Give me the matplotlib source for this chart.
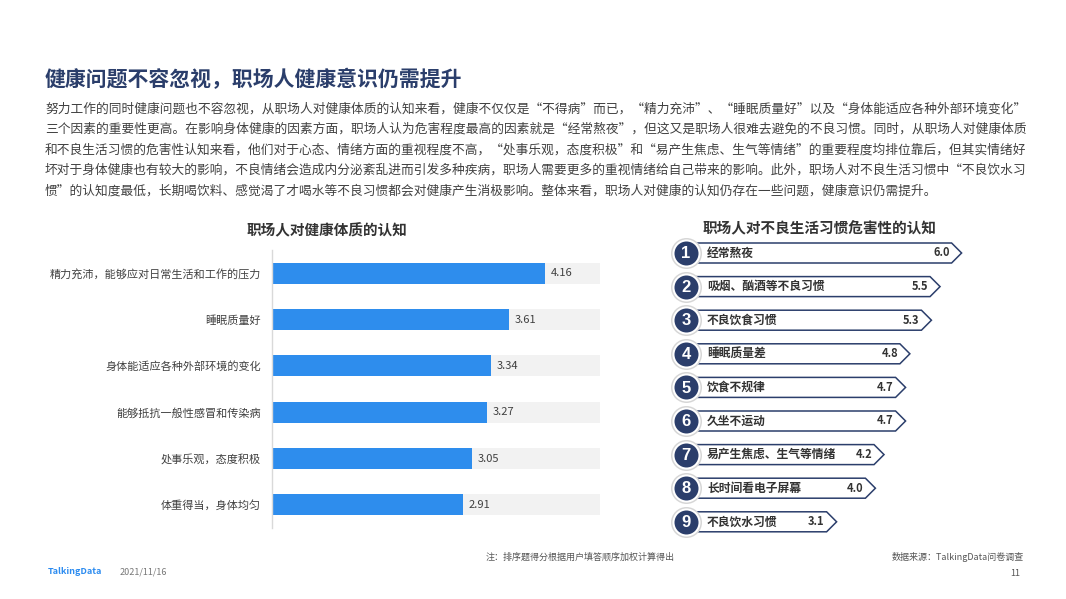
import matplotlib
matplotlib.use("Agg")
import matplotlib.pyplot as plt
from matplotlib.patches import Polygon

plt.rcParams['font.family'] = ['Noto Sans CJK SC', 'DejaVu Sans']

W, H = 1066, 599

# ---------------- data ----------------
title = "健康问题不容忽视，职场人健康意识仍需提升"
para_lines = [
    "努力工作的同时健康问题也不容忽视，从职场人对健康体质的认知来看，健康不仅仅是“不得病”而已，“精力充沛”、“睡眠质量好”以及“身体能适应各种外部环境变化”",
    "三个因素的重要性更高。在影响身体健康的因素方面，职场人认为危害程度最高的因素就是“经常熬夜”，但这又是职场人很难去避免的不良习惯。同时，从职场人对健康体质",
    "和不良生活习惯的危害性认知来看，他们对于心态、情绪方面的重视程度不高，“处事乐观，态度积极”和“易产生焦虑、生气等情绪”的重要程度均排位靠后，但其实情绪好",
    "坏对于身体健康也有较大的影响，不良情绪会造成内分泌紊乱进而引发多种疾病，职场人需要更多的重视情绪给自己带来的影响。此外，职场人对不良生活习惯中“不良饮水习",
    "惯”的认知度最低，长期喝饮料、感觉渴了才喝水等不良习惯都会对健康产生消极影响。整体来看，职场人对健康的认知仍存在一些问题，健康意识仍需提升。",
]

left_title = "职场人对健康体质的认知"
health_items = ["精力充沛，能够应对日常生活和工作的压力", "睡眠质量好", "身体能适应各种外部环境的变化",
                "能够抵抗一般性感冒和传染病", "处事乐观，态度积极", "体重得当，身体均匀"]
health_scores = [4.16, 3.61, 3.34, 3.27, 3.05, 2.91]
health_max = 5

right_title = "职场人对不良生活习惯危害性的认知"
habit_items = ["经常熬夜", "吸烟、酗酒等不良习惯", "不良饮食习惯", "睡眠质量差", "饮食不规律",
               "久坐不运动", "易产生焦虑、生气等情绪", "长时间看电子屏幕", "不良饮水习惯"]
habit_scores = [6.0, 5.5, 5.3, 4.8, 4.7, 4.7, 4.2, 4.0, 3.1]

note = "注：排序题得分根据用户填答顺序加权计算得出"
source = "数据来源：TalkingData问卷调查"
date = "2021/11/16"
page = "11"

navy = "#2b3e6b"
text_c = "#404040"
blue = "#2e8ded"


def px(x, y):
    return x / W, 1 - y / H


fig = plt.figure(figsize=(W / 100, H / 100), dpi=100)
fig.patch.set_facecolor("white")

# header
fig.text(*px(45, 79), title, fontsize=15, fontweight="bold", color=navy, va="center")
for i, line in enumerate(para_lines):
    fig.text(*px(45, 109 + i * 20.5), line, fontsize=9.15, color=text_c, va="center")

# ---------------- left chart ----------------
axl = fig.add_axes([272 / W, 1 - 528 / H, 328 / W, 278 / H])
ypos = list(range(len(health_items)))
axl.barh(ypos, [health_max] * len(ypos), height=0.45, color="#f2f2f2", zorder=1)
axl.barh(ypos, health_scores, height=0.45, color=blue, zorder=2)
for y, v in zip(ypos, health_scores):
    axl.text(v + 0.09, y, f"{v:.2f}", va="center", ha="left", fontsize=8, color=text_c, zorder=3)
axl.set_xlim(0, health_max)
axl.set_ylim(len(ypos) - 0.5, -0.5)
axl.set_yticks(ypos)
axl.set_yticklabels(health_items, fontsize=8, color=text_c)
axl.tick_params(axis="y", length=0, pad=8)
axl.set_xticks([])
for s in ["top", "right", "bottom"]:
    axl.spines[s].set_visible(False)
axl.spines["left"].set_color("#d9d9d9")
axl.spines["left"].set_linewidth(1)
fig.text(*px(327, 230), left_title, fontsize=10.5, fontweight="bold", color="#333333",
         ha="center", va="center")

# ---------------- right chart ----------------
x0_px, unit_px = 703, 43.1
row0_px, row_px = 253, 33.6
axr = fig.add_axes([660 / W, 1 - 540 / H, 340 / W, 304 / H])
axr.set_xlim((660 - x0_px) / unit_px, (1000 - x0_px) / unit_px)
axr.set_ylim((540 - row0_px) / row_px, (236 - row0_px) / row_px)
axr.axis("off")

half_h = 10 / row_px
depth = 10 / unit_px
left_x = (686 - x0_px) / unit_px
for i, (name, v) in enumerate(zip(habit_items, habit_scores)):
    pts = [(left_x, i - half_h), (v - depth, i - half_h), (v, i),
           (v - depth, i + half_h), (left_x, i + half_h)]
    axr.add_patch(Polygon(pts, closed=True, facecolor="white", edgecolor=navy,
                          linewidth=1.1, zorder=2))
    axr.text(4 / unit_px, i, name, fontsize=8.5, fontweight="bold", color="#333333",
             va="center", ha="left", zorder=5)
    axr.text(v - 12 / unit_px, i, f"{v:.1f}", fontsize=8, fontweight="bold", color="#333333",
             va="center", ha="right", zorder=5)

rows = list(range(len(habit_items)))
cx = [(686 - x0_px) / unit_px] * len(rows)
axr.scatter(cx, rows, s=(31 * 0.72) ** 2, color="#d6d6d6", zorder=3, linewidths=0)
axr.scatter(cx, rows, s=(28 * 0.72) ** 2, color="white", zorder=3.5, linewidths=0)
axr.scatter(cx, rows, s=(24 * 0.72) ** 2, color=navy, zorder=4, linewidths=0)
for i in rows:
    axr.text(cx[i], i + 0.02, str(i + 1), fontsize=12, fontweight="bold", color="white",
             ha="center", va="center", zorder=6, family="Liberation Sans")

fig.text(*px(820, 228), right_title, fontsize=10.5, fontweight="bold", color="#333333",
         ha="center", va="center")

# ---------------- footer ----------------
fig.text(*px(48, 572), "TalkingData", fontsize=6.5, fontweight="bold", color="#2d8cf0", va="center")
fig.text(*px(120, 572), date, fontsize=6.5, color="#777777", va="center")
fig.text(*px(486, 557), note, fontsize=6.5, color="#555555", va="center", style="italic")
fig.text(*px(1024, 557), source, fontsize=6.5, color="#555555", va="center", ha="right", style="italic")
fig.text(*px(1020, 573), page, fontsize=6.5, color="#555555", va="center", ha="right")

fig.savefig("out.png", dpi=100, facecolor="white")
